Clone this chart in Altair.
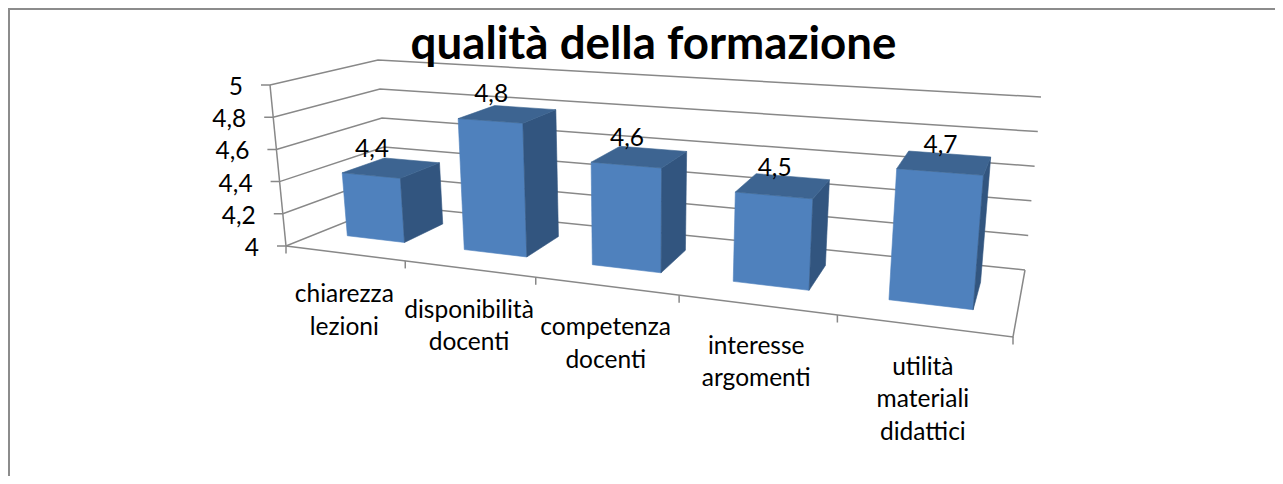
import altair as alt
import pandas as pd

# ---- chart values ----
categories = ["chiarezza\nlezioni", "disponibilità\ndocenti", "competenza\ndocenti",
              "interesse\nargomenti", "utilità\nmateriali\ndidattici"]
values = [4.4, 4.8, 4.6, 4.5, 4.7]
value_labels = ["4,4", "4,8", "4,6", "4,5", "4,7"]
y_ticks = [4.0, 4.2, 4.4, 4.6, 4.8, 5.0]
y_tick_labels = ["4", "4,2", "4,4", "4,6", "4,8", "5"]
title_text = "qualità della formazione"

# ---- 3D view: corners of the plot box on the page ----
W, H = 1267, 468
OX, OY = 8, 8
FLOOR = {"fl": (286, 246), "fr": (1013, 337), "bl": (388, 205), "br": (1025, 270)}
ROOF = {"fl": (270, 85), "fr": (1030, 132), "bl": (378, 60), "br": (1041, 97)}
PERSP = 1.274          # foreshortening along the category axis
V_MIN, V_MAX = 4.0, 5.0
W0, W1 = 0.33, 0.75    # bar depth span
FONT = "Lato"
GRID = "#888888"


def bilinear(c, s, w):
    fx = c["fl"][0] + (c["fr"][0] - c["fl"][0]) * s
    fy = c["fl"][1] + (c["fr"][1] - c["fl"][1]) * s
    bx = c["bl"][0] + (c["br"][0] - c["bl"][0]) * s
    by = c["bl"][1] + (c["br"][1] - c["bl"][1]) * s
    return fx + (bx - fx) * w, fy + (by - fy) * w


def project(u, value, w):
    s = u / (u + PERSP * (1 - u))
    t = (value - V_MIN) / (V_MAX - V_MIN)
    x0, y0 = bilinear(FLOOR, s, w)
    x1, y1 = bilinear(ROOF, s, w)
    return x0 + (x1 - x0) * t - OX, y0 + (y1 - y0) * t - OY


def path(name, pts):
    return [{"id": name, "i": i, "x": p[0], "y": p[1]} for i, p in enumerate(pts)]


n = len(categories)
front, side, top, lines = [], [], [], []
for k, v in enumerate(values):
    u0, u1 = (k + 0.25) / n, (k + 0.75) / n
    front += path(f"f{k}", [project(u0, V_MIN, W0), project(u1, V_MIN, W0), project(u1, v, W0),
                            project(u0, v, W0), project(u0, V_MIN, W0)])
    side += path(f"s{k}", [project(u1, V_MIN, W0), project(u1, V_MIN, W1), project(u1, v, W1),
                           project(u1, v, W0), project(u1, V_MIN, W0)])
    top += path(f"t{k}", [project(u0, v, W0), project(u1, v, W0), project(u1, v, W1),
                          project(u0, v, W1), project(u0, v, W0)])

for t in y_ticks:
    a = project(0, t, 0)
    lines += path(f"grid{t}", [(a[0] - 9, a[1]), a, project(0, t, 1), project(1, t, 1)])
lines += path("yaxis", [project(0, V_MIN, 0), project(0, V_MAX, 0)])
lines += path("floor", [project(0, V_MIN, 0), project(1, V_MIN, 0), project(1, V_MIN, 1)])
for k in range(n + 1):
    p = project(k / n, V_MIN, 0)
    lines += path(f"xtick{k}", [p, (p[0], p[1] + 7.5)])

frame = path("frame", [(1, H), (1, 1), (W, 1)])

cat_df = pd.DataFrame([
    {"label": c, "x": project((k + 0.5) / n, V_MIN, 0)[0], "y": project((k + 0.5) / n, V_MIN, 0)[1]}
    for k, c in enumerate(categories)])
val_df = pd.DataFrame([
    {"label": l, "x": project((k + 0.5) / n, v, W0)[0], "y": project((k + 0.5) / n, v, W0)[1]}
    for k, (l, v) in enumerate(zip(value_labels, values))])
tick_df = pd.DataFrame([
    {"label": l, "x": project(0, t, 0)[0], "y": project(0, t, 0)[1]}
    for l, t in zip(y_tick_labels, y_ticks)])

X = alt.X("x:Q", scale=alt.Scale(domain=[0, W], nice=False, zero=False), axis=None)
Y = alt.Y("y:Q", scale=alt.Scale(domain=[H, 0], nice=False, zero=False), axis=None)


def poly(rows, colour):
    return alt.Chart(pd.DataFrame(rows)).mark_line(
        fill=colour, stroke=colour, strokeWidth=0.6, clip=False
    ).encode(x=X, y=Y, detail="id:N", order="i:Q")


def stroke(rows, colour, width):
    return alt.Chart(pd.DataFrame(rows)).mark_line(
        stroke=colour, strokeWidth=width, clip=False
    ).encode(x=X, y=Y, detail="id:N", order="i:Q")


def text(df, **kw):
    return alt.Chart(df).mark_text(font=FONT, color="#000000", **kw).encode(x=X, y=Y, text="label:N")


chart = alt.layer(
    stroke(frame, "#8c8c8c", 2),
    stroke(lines, GRID, 1.5),
    poly(front, "#4F81BD"),
    poly(side, "#32557F"),
    poly(top, "#3D6491"),
    text(val_df, fontSize=24.5, align="center", baseline="middle", dx=1, dy=-26),
    text(tick_df, fontSize=24.5, align="right", baseline="middle", dx=-27, dy=3),
    text(cat_df, fontSize=24.5, align="center", baseline="top", dy=30, lineBreak="\n", lineHeight=32.5),
).properties(
    width=W, height=H, padding=0,
    autosize=alt.AutoSizeParams(type="none"),
    title=alt.TitleParams(title_text, font=FONT, fontSize=45.7, fontWeight="bold", color="#000000",
                          anchor="middle", dx=12, dy=64, offset=0),
).configure_view(stroke=None)

chart.save("out.html", embed_options={"renderer": "svg", "actions": False})
